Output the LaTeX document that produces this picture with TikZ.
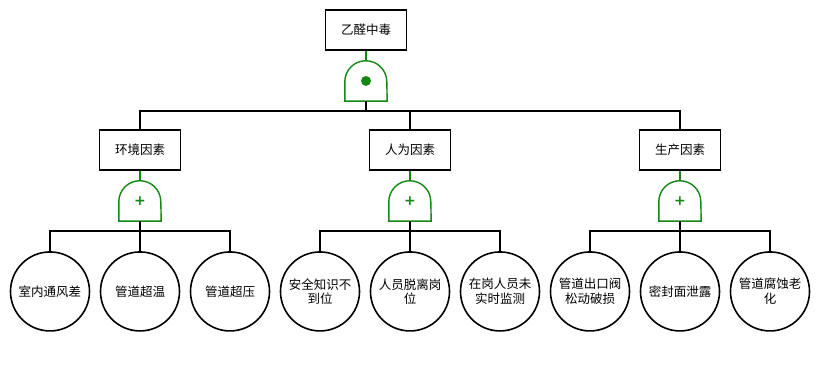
\documentclass[tikz,border=0pt]{standalone}
\usepackage{fontspec}
\newfontfamily\cjk{Noto Sans CJK SC}
\newfontfamily\symb{DejaVu Sans}
\usetikzlibrary{positioning}
\definecolor{gatecol}{RGB}{20,135,20}

\begin{document}
\begin{tikzpicture}[
    x=1pt, y=1pt,
    font=\cjk\fontsize{12.5}{15}\selectfont,
    box/.style={
        draw,
        line width=1.5pt,
        minimum width=81pt,
        minimum height=40pt
    },
    event/.style={
        draw,
        circle,
        line width=1.6pt,
        minimum size=79pt,
        inner sep=0pt,
        align=center,
        font=\cjk\fontsize{12.5}{14.5}\selectfont
    },
    wire/.style={line width=1.8pt},
    gateline/.style={draw=gatecol, line width=1.4pt},
    gate/.style={
        minimum width=42pt,
        minimum height=40pt,
        inner sep=0pt,
        text=gatecol,
        font=\symb\bfseries\fontsize{14}{14}\selectfont,
        append after command={\pgfextra{
            \draw[gateline] (\tikzlastnode.south west)
                -- ([yshift=-21pt]\tikzlastnode.north west)
                arc[start angle=180, end angle=0, radius=21pt]
                -- (\tikzlastnode.south east) -- cycle;}}
    }
]
\useasboundingbox (0,0) rectangle (820,390);

% Top event
\node[box] (poison) at (366,360) {乙醛中毒};
\node[gate, below=10pt of poison] (topgate) {};
\fill[gatecol] (topgate.center) circle (5pt);

% Intermediate events
\node[box] (env) at (140,240) {环境因素};
\node[box] (human) at (410,240) {人为因素};
\node[box] (prod) at (680,240) {生产因素};

\node[gate, below=10pt of env] (envgate) {+};
\node[gate, below=10pt of human] (humangate) {+};
\node[gate, below=10pt of prod] (prodgate) {+};

% Basic events
\node[event, below=30pt of envgate] (overtemp) {管道超温};
\node[event, left=9.4pt of overtemp] (vent) {室内通风差};
\node[event, right=9.4pt of overtemp] (overpres) {管道超压};

\node[event, below=30pt of humangate] (absent) {人员脱离岗\\位};
\node[event, left=9.4pt of absent] (knowhow) {安全知识不\\到位};
\node[event, right=9.4pt of absent] (nomonitor) {在岗人员未\\实时监测};

\node[event, below=30pt of prodgate] (seal) {密封面泄露};
\node[event, left=9.4pt of seal] (valve) {管道出口阀\\松动破损};
\node[event, right=9.4pt of seal] (corrode) {管道腐蚀老\\化};

% Top gate
\draw[gateline] (poison.south) -- (topgate.north);
\draw[wire] (topgate.south) -- ([yshift=-10pt]topgate.south) coordinate (topjoint);
\draw[wire] (env.north) |- (topjoint) -| (prod.north);
\draw[wire] (human.north) -- (human.north |- topjoint);

% Environment branch
\draw[gateline] (env.south) -- (envgate.north);
\draw[wire] (envgate.south) -- ([yshift=-10pt]envgate.south) coordinate (envjoint);
\draw[wire] (vent.north) |- (envjoint) -| (overpres.north);
\draw[wire] (envjoint) -- (overtemp.north);

% Human branch
\draw[gateline] (human.south) -- (humangate.north);
\draw[wire] (humangate.south) -- ([yshift=-10pt]humangate.south) coordinate (humanjoint);
\draw[wire] (knowhow.north) |- (humanjoint) -| (nomonitor.north);
\draw[wire] (humanjoint) -- (absent.north);

% Production branch
\draw[gateline] (prod.south) -- (prodgate.north);
\draw[wire] (prodgate.south) -- ([yshift=-10pt]prodgate.south) coordinate (prodjoint);
\draw[wire] (valve.north) |- (prodjoint) -| (corrode.north);
\draw[wire] (prodjoint) -- (seal.north);

\end{tikzpicture}
\end{document}
